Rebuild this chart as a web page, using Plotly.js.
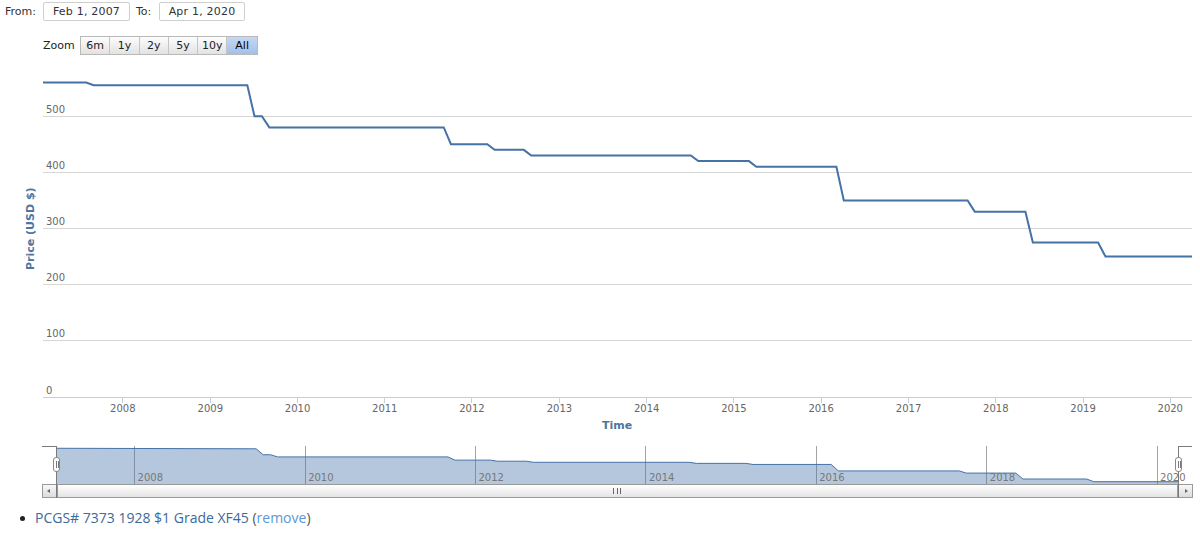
<!DOCTYPE html>
<html>
<head>
<meta charset="utf-8">
<script src="https://cdn.plot.ly/plotly-3.0.1.min.js"></script>
<style>
  html, body { margin: 0; padding: 0; background: #fff; width: 1200px; height: 533px; overflow: hidden; }
  #chart { position: absolute; left: 0; top: 0; width: 1200px; height: 533px; }
  .ui { position: absolute; font-family: "DejaVu Sans", Verdana, sans-serif; font-size: 11px; color: #333; z-index: 5; }
  .lbl { line-height: 19px; }
  .box { border: 1px solid #cfcfcf; border-radius: 2px; text-align: center; line-height: 17px; height: 17px; color: #333; background: #fff; letter-spacing: 0.2px; }
  .btns { display: flex; height: 17px; border: 1px solid #b9b9b9; }
  .btn { width: 29.3px; text-align: center; line-height: 17px; background: linear-gradient(#fdfdfd, #e2e2e2); border-right: 1px solid #c4c4c4; box-sizing: border-box; color: #222; }
  .btn:last-child { border-right: none; }
  .btn.sel { background: linear-gradient(#c5d8f3, #a4c0e8); color: #000; }
  .outline { position: absolute; background: #7a7a7a; z-index: 6; }
  .handle { position: absolute; width: 7px; height: 15px; background: #fff; border: 1px solid #888; border-radius: 3px; z-index: 7; box-sizing: border-box; }
  .handle::before, .handle::after { content: ""; position: absolute; top: 3px; width: 1px; height: 7px; background: #777; }
  .handle::before { left: 1.5px; } .handle::after { left: 3.5px; }
  .track { position: absolute; left: 42px; top: 484px; width: 1150px; height: 14px; background: linear-gradient(#eee, #fff); border: 1px solid #ccc; box-sizing: border-box; z-index: 5; }
  .bar { position: absolute; left: 57px; top: 484px; width: 1121px; height: 14px; background: linear-gradient(#ffffff, #e4e4e4); border: 1px solid #9a9a9a; box-sizing: border-box; z-index: 5; }
  .rifle { position: absolute; left: 613px; top: 488px; width: 8px; height: 6px; z-index: 6; display: flex; justify-content: space-between; }
  .rifle span { width: 1px; height: 6px; background: #666; }
  .sbtn { position: absolute; top: 484px; width: 15px; height: 14px; background: linear-gradient(#f8f8f8, #dcdcdc); border: 1px solid #9a9a9a; box-sizing: border-box; z-index: 6; }
  .arrow { position: absolute; top: 3.5px; width: 0; height: 0; border-top: 2.5px solid transparent; border-bottom: 2.5px solid transparent; }
  .legend { position: absolute; left: 20px; top: 508px; font-family: "Open Sans", "Noto Sans", sans-serif; font-size: 14px; z-index: 5; }
  .legend .dot { position: absolute; left: 0; top: 8px; width: 5px; height: 5px; border-radius: 50%; background: #222; }
  .legend .txt { position: absolute; left: 15px; top: 0; white-space: nowrap; color: #555; line-height: 20px; }
  .legend .name { color: #3b6a9b; }
  .legend .rm { color: #5a98d8; }
</style>
</head>
<body>
<div id="chart"></div>

<div class="ui lbl" style="left:5px; top:2px;">From:</div>
<div class="ui box" id="fromBox" style="left:43px; top:2px; width:85px;"></div>
<div class="ui lbl" style="left:136px; top:2px;">To:</div>
<div class="ui box" id="toBox" style="left:159px; top:2px; width:84px;"></div>

<div class="ui lbl" style="left:43px; top:36px; color:#222;">Zoom</div>
<div class="ui btns" id="btns" style="left:80px; top:36px;"></div>

<div class="track"></div>
<div class="bar"></div>
<div class="rifle"><span></span><span></span><span></span></div>
<div class="sbtn" style="left:42px;"><div class="arrow" style="left:4px; border-right:3px solid #666;"></div></div>
<div class="sbtn" style="left:1178px;"><div class="arrow" style="left:6px; border-left:3px solid #666;"></div></div>

<div class="outline" style="left:42px; top:446px; width:15px; height:1px;"></div>
<div class="outline" style="left:56px; top:446px; width:1px; height:52px;"></div>
<div class="outline" style="left:1178px; top:446px; width:14px; height:1px;"></div>
<div class="outline" style="left:1178px; top:446px; width:1px; height:52px;"></div>
<div class="handle" style="left:53px; top:457px;"></div>
<div class="handle" style="left:1175px; top:457px;"></div>

<div class="legend"><div class="dot"></div><div class="txt"><span class="name" id="seriesName"></span> (<span class="rm">remove</span>)</div></div>

<script>
// ---- data ----
const priceDates = [
  "2007-02-01", "2007-08-01", "2007-09-01", "2009-06-05", "2009-07-05",
  "2009-08-05", "2009-09-05", "2011-09-05", "2011-10-05", "2012-03-05",
  "2012-04-05", "2012-08-05", "2012-09-05", "2014-07-05", "2014-08-05",
  "2015-03-05", "2015-04-05", "2016-03-05", "2016-04-05", "2017-09-05",
  "2017-10-05", "2018-05-05", "2018-06-05", "2019-03-05", "2019-04-05",
  "2020-04-01"
];
const priceValues = [
  560, 560, 555, 555, 500,
  500, 480, 480, 450, 450,
  440, 440, 430, 430, 420,
  420, 410, 410, 350, 350,
  330, 330, 275, 275, 250,
  250
];
const seriesName = "PCGS# 7373 1928 $1 Grade XF45";
const rangeFrom = "Feb 1, 2007";
const rangeTo = "Apr 1, 2020";
const zoomButtons = ["6m", "1y", "2y", "5y", "10y", "All"];
const selectedButton = "All";
const xStart = "2007-02-01";
const xEnd = "2020-04-01";

// ---- HTML controls ----
document.getElementById("fromBox").textContent = rangeFrom;
document.getElementById("toBox").textContent = rangeTo;
document.getElementById("seriesName").textContent = seriesName;
const btns = document.getElementById("btns");
zoomButtons.forEach(b => {
  const d = document.createElement("div");
  d.className = "btn" + (b === selectedButton ? " sel" : "");
  d.textContent = b;
  btns.appendChild(d);
});

// ---- chart ----
const W = 1200, H = 533;
const px = v => v / W;
const py = v => 1 - v / H;
const lineColor = "#4572A7";
const font = "DejaVu Sans, Verdana, sans-serif";

const traces = [
  {
    x: priceDates, y: priceValues, type: "scatter", mode: "lines",
    line: { color: lineColor, width: 2 },
    xaxis: "x", yaxis: "y", hoverinfo: "x+y"
  },
  {
    x: priceDates, y: priceValues, type: "scatter", mode: "lines",
    fill: "tozeroy", fillcolor: "rgba(69,114,167,0.4)",
    line: { color: lineColor, width: 1 },
    xaxis: "x2", yaxis: "y2", hoverinfo: "skip"
  }
];

const layout = {
  width: W, height: H,
  margin: { l: 0, r: 0, t: 0, b: 0 },
  paper_bgcolor: "rgba(0,0,0,0)",
  plot_bgcolor: "rgba(0,0,0,0)",
  showlegend: false,
  font: { family: font, size: 10, color: "#666" },
  xaxis: {
    domain: [px(43), px(1192)],
    anchor: "y",
    type: "date",
    range: [xStart, xEnd],
    tick0: "2008-01-01", dtick: "M12", tickformat: "%Y",
    showgrid: false, zeroline: false,
    showline: true, linecolor: "#C0D0E0", linewidth: 1,
    ticks: "outside", ticklen: 5, tickcolor: "#C0D0E0",
    ticklabelstandoff: -3,
    tickfont: { family: font, size: 10, color: "#666" }
  },
  yaxis: {
    domain: [py(397), py(60)],
    anchor: "x",
    range: [0, 600], dtick: 100,
    showgrid: true, gridcolor: "#d6d6d6", gridwidth: 1,
    zeroline: false, showline: false,
    ticklabelposition: "inside top",
    tickfont: { family: font, size: 10, color: "#666" }
  },
  xaxis2: {
    domain: [px(56.7), px(1178.3)],
    anchor: "y2",
    type: "date",
    range: [xStart, xEnd],
    tick0: "2008-01-01", dtick: "M24", tickformat: "%Y",
    showgrid: true, gridcolor: "#a3a3a3", gridwidth: 1,
    zeroline: false, showline: false, ticks: "",
    ticklabelposition: "inside right",
    ticklabeloverflow: "allow",
    ticklabelstandoff: -5,
    ticklabelshift: 3,
    tickfont: { family: font, size: 10, color: "#777" }
  },
  yaxis2: {
    domain: [py(484.3), py(446)],
    anchor: "x2",
    range: [226, 581],
    showgrid: false, zeroline: false, showline: false,
    showticklabels: false, ticks: ""
  },
  annotations: [
    {
      text: "Price (USD $)", textangle: -90,
      xref: "paper", yref: "paper", x: px(30), y: py(229),
      xanchor: "center", yanchor: "middle", showarrow: false,
      font: { family: font, size: 11, color: "#4d759e", weight: "bold" }
    },
    {
      text: "Time",
      xref: "paper", yref: "paper", x: px(617.5), y: py(425),
      xanchor: "center", yanchor: "middle", showarrow: false,
      font: { family: font, size: 11, color: "#4d759e", weight: "bold" }
    }
  ]
};

Plotly.newPlot("chart", traces, layout, { displayModeBar: false, staticPlot: true });
</script>
</body>
</html>
